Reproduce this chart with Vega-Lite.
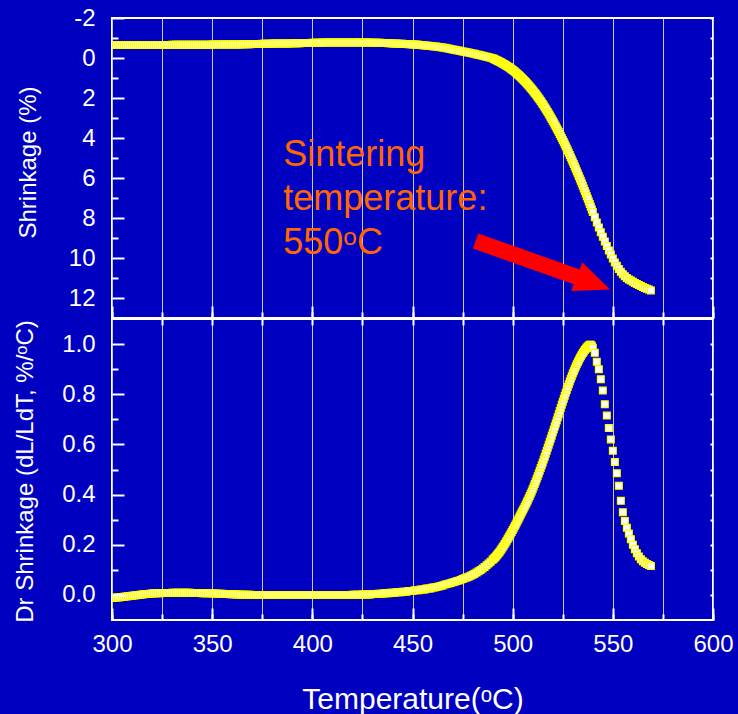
{
"$schema": "https://vega.github.io/schema/vega-lite/v6.json",
"background": "#0000C0",
"padding": {"left": 12, "top": 5, "right": 5, "bottom": 0},
"config": {
  "font": "Liberation Sans",
  "view": {"fill": "#0000C0", "stroke": "#FFFFFF", "strokeWidth": 2},
  "axis": {"domain": false, "grid": false, "tickColor": "#FFFFFF", "tickWidth": 2, "labelColor": "#FFFFFF", "labelFont": "Liberation Sans", "labelFontSize": 24, "titleColor": "#FFFFFF", "titleFont": "Liberation Sans", "titleFontWeight": "normal", "titleFontSize": 24, "labelFlush": false, "labelOverlap": false}
},
"datasets": {
"note": [{"T":385.5,"S":5.4,"txt":"Sintering"},{"T":385.5,"S":7.62,"txt":"temperature:"},{"T":385.5,"S":9.82,"txt":"550ᵒC"}],
"arrow": [{"T1":481.5,"S1":9.15,"T2":533.6,"S2":11.0}],
"head": [{"T":540.3,"S":11.25}],
"curve": [
{"T":300,"S":-0.65,"D":-0.012},{"T":301,"S":-0.65,"D":-0.011},{"T":302,"S":-0.65,"D":-0.01},{"T":303,"S":-0.65,"D":-0.01},{"T":304,"S":-0.65,"D":-0.009},{"T":305,"S":-0.65,"D":-0.008},{"T":306,"S":-0.65,"D":-0.007},{"T":307,"S":-0.65,"D":-0.006},{"T":308,"S":-0.65,"D":-0.005},{"T":309,"S":-0.65,"D":-0.004},
{"T":310,"S":-0.65,"D":-0.003},{"T":311,"S":-0.65,"D":-0.002},{"T":312,"S":-0.65,"D":-0.001},{"T":313,"S":-0.65,"D":0},{"T":314,"S":-0.65,"D":0.001},{"T":315,"S":-0.65,"D":0.002},{"T":316,"S":-0.65,"D":0.003},{"T":317,"S":-0.65,"D":0.004},{"T":318,"S":-0.65,"D":0.004},{"T":319,"S":-0.65,"D":0.005},
{"T":320,"S":-0.65,"D":0.006},{"T":321,"S":-0.65,"D":0.007},{"T":322,"S":-0.65,"D":0.007},{"T":323,"S":-0.65,"D":0.007},{"T":324,"S":-0.65,"D":0.007},{"T":325,"S":-0.65,"D":0.008},{"T":326,"S":-0.65,"D":0.008},{"T":327,"S":-0.65,"D":0.008},{"T":328,"S":-0.65,"D":0.008},{"T":329,"S":-0.65,"D":0.008},
{"T":330,"S":-0.66,"D":0.009},{"T":331,"S":-0.66,"D":0.009},{"T":332,"S":-0.66,"D":0.009},{"T":333,"S":-0.66,"D":0.009},{"T":334,"S":-0.66,"D":0.009},{"T":335,"S":-0.66,"D":0.009},{"T":336,"S":-0.66,"D":0.009},{"T":337,"S":-0.66,"D":0.009},{"T":338,"S":-0.66,"D":0.009},{"T":339,"S":-0.66,"D":0.009},
{"T":340,"S":-0.66,"D":0.008},{"T":341,"S":-0.66,"D":0.008},{"T":342,"S":-0.66,"D":0.008},{"T":343,"S":-0.66,"D":0.008},{"T":344,"S":-0.66,"D":0.008},{"T":345,"S":-0.66,"D":0.007},{"T":346,"S":-0.66,"D":0.007},{"T":347,"S":-0.66,"D":0.007},{"T":348,"S":-0.66,"D":0.007},{"T":349,"S":-0.66,"D":0.007},
{"T":350,"S":-0.67,"D":0.006},{"T":351,"S":-0.67,"D":0.006},{"T":352,"S":-0.67,"D":0.006},{"T":353,"S":-0.67,"D":0.005},{"T":354,"S":-0.67,"D":0.005},{"T":355,"S":-0.67,"D":0.005},{"T":356,"S":-0.67,"D":0.004},{"T":357,"S":-0.67,"D":0.004},{"T":358,"S":-0.67,"D":0.004},{"T":359,"S":-0.67,"D":0.003},
{"T":360,"S":-0.68,"D":0.003},{"T":361,"S":-0.68,"D":0.003},{"T":362,"S":-0.68,"D":0.002},{"T":363,"S":-0.68,"D":0.002},{"T":364,"S":-0.68,"D":0.002},{"T":365,"S":-0.69,"D":0.001},{"T":366,"S":-0.69,"D":0.001},{"T":367,"S":-0.69,"D":0.001},{"T":368,"S":-0.69,"D":0.001},{"T":369,"S":-0.69,"D":0.001},
{"T":370,"S":-0.7,"D":0},{"T":371,"S":-0.7,"D":0},{"T":372,"S":-0.7,"D":0},{"T":373,"S":-0.7,"D":0},{"T":374,"S":-0.7,"D":0},{"T":375,"S":-0.71,"D":0},{"T":376,"S":-0.71,"D":0},{"T":377,"S":-0.71,"D":0},{"T":378,"S":-0.71,"D":0},{"T":379,"S":-0.71,"D":0},
{"T":380,"S":-0.72,"D":0},{"T":381,"S":-0.72,"D":0},{"T":382,"S":-0.72,"D":0},{"T":383,"S":-0.72,"D":0},{"T":384,"S":-0.72,"D":0},{"T":385,"S":-0.73,"D":0},{"T":386,"S":-0.73,"D":0},{"T":387,"S":-0.73,"D":0},{"T":388,"S":-0.73,"D":0},{"T":389,"S":-0.73,"D":0},
{"T":390,"S":-0.74,"D":0},{"T":391,"S":-0.74,"D":0},{"T":392,"S":-0.74,"D":0},{"T":393,"S":-0.74,"D":0},{"T":394,"S":-0.74,"D":0},{"T":395,"S":-0.75,"D":0},{"T":396,"S":-0.75,"D":0},{"T":397,"S":-0.75,"D":0},{"T":398,"S":-0.75,"D":0},{"T":399,"S":-0.75,"D":0},
{"T":400,"S":-0.76,"D":0},{"T":401,"S":-0.76,"D":0},{"T":402,"S":-0.76,"D":0},{"T":403,"S":-0.76,"D":0},{"T":404,"S":-0.76,"D":0},{"T":405,"S":-0.77,"D":0},{"T":406,"S":-0.77,"D":0},{"T":407,"S":-0.77,"D":0},{"T":408,"S":-0.77,"D":0},{"T":409,"S":-0.77,"D":0},
{"T":410,"S":-0.77,"D":0},{"T":411,"S":-0.77,"D":0},{"T":412,"S":-0.77,"D":0},{"T":413,"S":-0.77,"D":0},{"T":414,"S":-0.77,"D":0},{"T":415,"S":-0.77,"D":0},{"T":416,"S":-0.77,"D":0},{"T":417,"S":-0.77,"D":0},{"T":418,"S":-0.77,"D":0},{"T":419,"S":-0.77,"D":0},
{"T":420,"S":-0.77,"D":0.001},{"T":421,"S":-0.77,"D":0.001},{"T":422,"S":-0.77,"D":0.001},{"T":423,"S":-0.77,"D":0.001},{"T":424,"S":-0.77,"D":0.001},{"T":425,"S":-0.77,"D":0.002},{"T":426,"S":-0.77,"D":0.002},{"T":427,"S":-0.77,"D":0.002},{"T":428,"S":-0.77,"D":0.002},{"T":429,"S":-0.77,"D":0.002},
{"T":430,"S":-0.76,"D":0.004},{"T":431,"S":-0.76,"D":0.004},{"T":432,"S":-0.76,"D":0.004},{"T":433,"S":-0.76,"D":0.005},{"T":434,"S":-0.76,"D":0.005},{"T":435,"S":-0.75,"D":0.005},{"T":436,"S":-0.75,"D":0.007},{"T":437,"S":-0.75,"D":0.007},{"T":438,"S":-0.74,"D":0.007},{"T":439,"S":-0.74,"D":0.009},
{"T":440,"S":-0.73,"D":0.009},{"T":441,"S":-0.72,"D":0.009},{"T":442,"S":-0.72,"D":0.011},{"T":443,"S":-0.71,"D":0.011},{"T":444,"S":-0.71,"D":0.011},{"T":445,"S":-0.71,"D":0.013},{"T":446,"S":-0.7,"D":0.013},{"T":447,"S":-0.7,"D":0.013},{"T":448,"S":-0.69,"D":0.016},{"T":449,"S":-0.69,"D":0.016},
{"T":450,"S":-0.68,"D":0.016},{"T":451,"S":-0.67,"D":0.019},{"T":452,"S":-0.67,"D":0.019},{"T":453,"S":-0.66,"D":0.019},{"T":454,"S":-0.65,"D":0.022},{"T":455,"S":-0.64,"D":0.022},{"T":456,"S":-0.63,"D":0.022},{"T":457,"S":-0.62,"D":0.026},{"T":458,"S":-0.61,"D":0.026},{"T":459,"S":-0.6,"D":0.026},
{"T":460,"S":-0.59,"D":0.03},{"T":461,"S":-0.58,"D":0.03},{"T":462,"S":-0.57,"D":0.032},{"T":463,"S":-0.55,"D":0.034},{"T":464,"S":-0.54,"D":0.036},{"T":465,"S":-0.52,"D":0.038},{"T":466,"S":-0.51,"D":0.041},{"T":467,"S":-0.49,"D":0.043},{"T":468,"S":-0.47,"D":0.045},{"T":469,"S":-0.45,"D":0.047},
{"T":470,"S":-0.43,"D":0.05},{"T":471,"S":-0.41,"D":0.052},{"T":472,"S":-0.39,"D":0.055},{"T":473,"S":-0.37,"D":0.057},{"T":474,"S":-0.35,"D":0.06},{"T":475,"S":-0.33,"D":0.063},{"T":476,"S":-0.31,"D":0.066},{"T":477,"S":-0.29,"D":0.069},{"T":478,"S":-0.27,"D":0.072},{"T":479,"S":-0.25,"D":0.076},
{"T":480,"S":-0.23,"D":0.08},{"T":481,"S":-0.21,"D":0.084},{"T":482,"S":-0.18,"D":0.089},{"T":483,"S":-0.16,"D":0.094},{"T":484,"S":-0.14,"D":0.099},{"T":485,"S":-0.11,"D":0.105},{"T":486,"S":-0.09,"D":0.111},{"T":487,"S":-0.06,"D":0.118},{"T":488,"S":-0.04,"D":0.125},{"T":489,"S":-0.01,"D":0.132},
{"T":490,"S":0.01,"D":0.14},{"T":490.5,"S":0.035,"D":0.144},{"T":491,"S":0.06,"D":0.148},{"T":491.5,"S":0.085,"D":0.152},{"T":492,"S":0.11,"D":0.157},{"T":492.5,"S":0.135,"D":0.162},{"T":493,"S":0.16,"D":0.167},{"T":493.5,"S":0.185,"D":0.172},{"T":494,"S":0.21,"D":0.178},{"T":494.5,"S":0.24,"D":0.184},
{"T":495,"S":0.27,"D":0.19},{"T":495.5,"S":0.3,"D":0.196},{"T":496,"S":0.33,"D":0.203},{"T":496.5,"S":0.36,"D":0.209},{"T":497,"S":0.39,"D":0.216},{"T":497.5,"S":0.42,"D":0.223},{"T":498,"S":0.455,"D":0.23},{"T":498.5,"S":0.49,"D":0.237},{"T":499,"S":0.525,"D":0.244},{"T":499.5,"S":0.56,"D":0.251},
{"T":500,"S":0.6,"D":0.259},{"T":500.5,"S":0.64,"D":0.266},{"T":501,"S":0.68,"D":0.274},{"T":501.5,"S":0.72,"D":0.281},{"T":502,"S":0.765,"D":0.289},{"T":502.5,"S":0.81,"D":0.297},{"T":503,"S":0.855,"D":0.305},{"T":503.5,"S":0.9,"D":0.313},{"T":504,"S":0.95,"D":0.321},{"T":504.5,"S":1.0,"D":0.329},
{"T":505,"S":1.05,"D":0.337},{"T":505.5,"S":1.1,"D":0.344},{"T":506,"S":1.15,"D":0.352},{"T":506.5,"S":1.205,"D":0.36},{"T":507,"S":1.26,"D":0.368},{"T":507.5,"S":1.315,"D":0.376},{"T":508,"S":1.37,"D":0.385},{"T":508.5,"S":1.43,"D":0.394},{"T":509,"S":1.49,"D":0.403},{"T":509.5,"S":1.55,"D":0.412},
{"T":510,"S":1.61,"D":0.422},{"T":510.5,"S":1.675,"D":0.432},{"T":511,"S":1.74,"D":0.442},{"T":511.5,"S":1.805,"D":0.452},{"T":512,"S":1.87,"D":0.463},{"T":512.5,"S":1.94,"D":0.473},{"T":513,"S":2.01,"D":0.484},{"T":513.5,"S":2.08,"D":0.495},{"T":514,"S":2.15,"D":0.506},{"T":514.5,"S":2.225,"D":0.517},
{"T":515,"S":2.3,"D":0.528},{"T":515.5,"S":2.38,"D":0.54},{"T":516,"S":2.46,"D":0.551},{"T":516.5,"S":2.54,"D":0.563},{"T":517,"S":2.62,"D":0.575},{"T":517.5,"S":2.705,"D":0.587},{"T":518,"S":2.79,"D":0.599},{"T":518.5,"S":2.875,"D":0.611},{"T":519,"S":2.96,"D":0.623},{"T":519.5,"S":3.05,"D":0.635},
{"T":520,"S":3.14,"D":0.647},{"T":520.5,"S":3.23,"D":0.659},{"T":521,"S":3.32,"D":0.671},{"T":521.5,"S":3.415,"D":0.683},{"T":522,"S":3.51,"D":0.695},{"T":522.5,"S":3.605,"D":0.708},{"T":523,"S":3.7,"D":0.72},{"T":523.5,"S":3.8,"D":0.733},{"T":524,"S":3.9,"D":0.745},{"T":524.5,"S":4.0,"D":0.758},
{"T":525,"S":4.1,"D":0.77},{"T":525.5,"S":4.205,"D":0.782},{"T":526,"S":4.31,"D":0.794},{"T":526.5,"S":4.415,"D":0.806},{"T":527,"S":4.52,"D":0.817},{"T":527.5,"S":4.63,"D":0.829},{"T":528,"S":4.74,"D":0.84},{"T":528.5,"S":4.85,"D":0.851},{"T":529,"S":4.96,"D":0.862},{"T":529.5,"S":5.075,"D":0.872},
{"T":530,"S":5.19,"D":0.883},{"T":530.5,"S":5.305,"D":0.892},{"T":531,"S":5.42,"D":0.902},{"T":531.5,"S":5.54,"D":0.911},{"T":532,"S":5.66,"D":0.92},{"T":532.5,"S":5.78,"D":0.928},{"T":533,"S":5.9,"D":0.936},{"T":533.5,"S":6.02,"D":0.944},{"T":534,"S":6.14,"D":0.951},{"T":534.5,"S":6.265,"D":0.958},
{"T":535,"S":6.39,"D":0.964},{"T":535.5,"S":6.52,"D":0.97},{"T":536,"S":6.65,"D":0.976},{"T":536.5,"S":6.78,"D":0.981},{"T":537,"S":6.91,"D":0.986},{"T":537.5,"S":7.04,"D":0.99},{"T":538,"S":7.17,"D":0.994},{"T":538.5,"S":7.305,"D":0.997},{"T":539,"S":7.44,"D":0.997},{"T":539.5,"S":7.57,"D":0.993},
{"T":540,"S":7.7,"D":0.985},{"T":541,"S":7.96,"D":0.965},{"T":542,"S":8.22,"D":0.93},{"T":543,"S":8.47,"D":0.9},{"T":544,"S":8.71,"D":0.86},{"T":545,"S":8.94,"D":0.815},{"T":546,"S":9.17,"D":0.76},{"T":547,"S":9.4,"D":0.715},{"T":548,"S":9.62,"D":0.665},{"T":549,"S":9.83,"D":0.62},
{"T":550,"S":10.03,"D":0.575},{"T":551,"S":10.22,"D":0.53},{"T":552,"S":10.39,"D":0.485},{"T":553,"S":10.55,"D":0.435},{"T":554,"S":10.69,"D":0.375},{"T":555,"S":10.81,"D":0.33},{"T":556,"S":10.91,"D":0.295},{"T":557,"S":11.0,"D":0.268},{"T":558,"S":11.07,"D":0.245},{"T":559,"S":11.13,"D":0.222},
{"T":560,"S":11.19,"D":0.2},{"T":561,"S":11.25,"D":0.182},{"T":562,"S":11.3,"D":0.166},{"T":563,"S":11.35,"D":0.153},{"T":564,"S":11.4,"D":0.142},{"T":565,"S":11.45,"D":0.134},{"T":566,"S":11.5,"D":0.128},{"T":567,"S":11.54,"D":0.123},{"T":568,"S":11.58,"D":0.119},{"T":569,"S":11.62,"D":0.115}
]
},
"spacing": 1,
"bounds": "flush",
"vconcat": [
{
  "width": 601, "height": 300,
  "resolve": {"axis": {"x": "independent", "y": "independent"}},
  "layer": [
    {
      "data": {"name": "note"},
      "mark": {"type": "text", "align": "left", "baseline": "alphabetic", "fontSize": 36, "font": "Liberation Sans", "color": "#FF6600"},
      "encoding": {
        "x": {"field": "T", "type": "quantitative", "scale": {"domain": [300, 600], "nice": false, "zero": false},
              "axis": {"orient": "bottom", "values": [300,325,350,375,400,425,450,475,500,525,550,575,600], "tickSize": -6, "labels": false, "title": null, "grid": true, "gridColor": "#C8C8C8", "gridWidth": 1, "zindex": 0}},
        "y": {"field": "S", "type": "quantitative", "scale": {"domain": [-2, 13], "reverse": true, "nice": false, "zero": false},
              "axis": {"orient": "left", "values": [-1,1,3,5,7,9,11], "tickSize": -6, "labels": false, "title": null}},
        "text": {"field": "txt"}
      }
    },
    {
      "data": {"name": "curve"},
      "mark": {"type": "point", "shape": "square", "filled": true, "fill": "#FFFFFF", "stroke": "#FFFF00", "strokeWidth": 1.2, "size": 46, "opacity": 1, "clip": true},
      "encoding": {
        "x": {"field": "T", "type": "quantitative",
              "axis": {"orient": "bottom", "values": [300,350,400,450,500,550,600], "tickSize": -12, "labels": false, "title": null, "zindex": 1}},
        "y": {"field": "S", "type": "quantitative",
              "axis": {"orient": "left", "values": [-2,0,2,4,6,8,10,12], "tickSize": -12, "labelPadding": 29, "labelExpr": "datum.value < 0 ? '-' + abs(datum.value) : datum.label", "title": "Shrinkage (%)", "titleAngle": 270, "titleBaseline": "alphabetic", "titleAlign": "center", "titleX": -77, "titleY": 144, "zindex": 1}}
      }
    },
    {
      "data": {"name": "arrow"},
      "mark": {"type": "rule", "color": "#FF0000", "strokeWidth": 16, "strokeCap": "butt"},
      "encoding": {
        "x": {"field": "T1", "type": "quantitative", "axis": null},
        "x2": {"field": "T2"},
        "y": {"field": "S1", "type": "quantitative",
              "axis": {"orient": "right", "values": [-2,-1,0,1,2,3,4,5,6,7,8,9,10,11,12,13], "tickSize": -3, "labels": false, "title": null}},
        "y2": {"field": "S2"}
      }
    },
    {
      "data": {"name": "head"},
      "mark": {"type": "point", "shape": "M1,0L-1,-0.86L-1,0.86Z", "filled": true, "fill": "#FF0000", "strokeWidth": 0, "size": 1275, "angle": 21, "opacity": 1},
      "encoding": {
        "x": {"field": "T", "type": "quantitative", "axis": null},
        "y": {"field": "S", "type": "quantitative", "axis": null}
      }
    }
  ]
},
{
  "width": 601, "height": 301,
  "resolve": {"axis": {"x": "independent", "y": "independent"}},
  "layer": [
    {
      "data": {"name": "curve"},
      "mark": {"type": "point", "opacity": 0},
      "encoding": {
        "x": {"field": "T", "type": "quantitative", "scale": {"domain": [300, 600], "nice": false, "zero": false},
              "axis": {"orient": "bottom", "values": [300,325,350,375,400,425,450,475,500,525,550,575,600], "tickSize": -6, "labels": false, "title": null, "grid": true, "gridColor": "#C8C8C8", "gridWidth": 1, "zindex": 0}},
        "y": {"field": "D", "type": "quantitative", "scale": {"domain": [-0.1, 1.1], "nice": false, "zero": false},
              "axis": {"orient": "left", "values": [0.1,0.3,0.5,0.7,0.9], "tickSize": -6, "labels": false, "title": null}}
      }
    },
    {
      "data": {"name": "curve"},
      "mark": {"type": "point", "opacity": 0},
      "encoding": {
        "x": {"field": "T", "type": "quantitative",
              "axis": {"orient": "top", "values": [325,350,375,400,425,450,475,500,525,550,575], "tickSize": -6, "labels": false, "title": null}},
        "y": {"field": "D", "type": "quantitative",
              "axis": {"orient": "right", "values": [0,0.1,0.2,0.3,0.4,0.5,0.6,0.7,0.8,0.9,1.0], "tickSize": -3, "labels": false, "title": null}}
      }
    },
    {
      "data": {"name": "curve"},
      "mark": {"type": "point", "shape": "square", "filled": true, "fill": "#FFFFFF", "stroke": "#FFFF00", "strokeWidth": 1.2, "size": 46, "opacity": 1, "clip": true},
      "encoding": {
        "x": {"field": "T", "type": "quantitative",
              "axis": {"orient": "bottom", "values": [300,350,400,450,500,550,600], "tickSize": -12, "labelPadding": 24, "title": "Temperature(ᵒC)", "titleFontSize": 30, "titleBaseline": "alphabetic", "titleAlign": "center", "titleX": 300.5, "titleY": 88, "zindex": 1}},
        "y": {"field": "D", "type": "quantitative",
              "axis": {"orient": "left", "values": [0,0.2,0.4,0.6,0.8,1.0], "format": ".1f", "tickSize": -12, "labelPadding": 29, "title": "Dr Shrinkage (dL/LdT, %/ᵒC)", "titleAngle": 270, "titleBaseline": "alphabetic", "titleAlign": "center", "titleX": -80, "titleY": 152, "zindex": 1}}
      }
    }
  ]
}
]
}
